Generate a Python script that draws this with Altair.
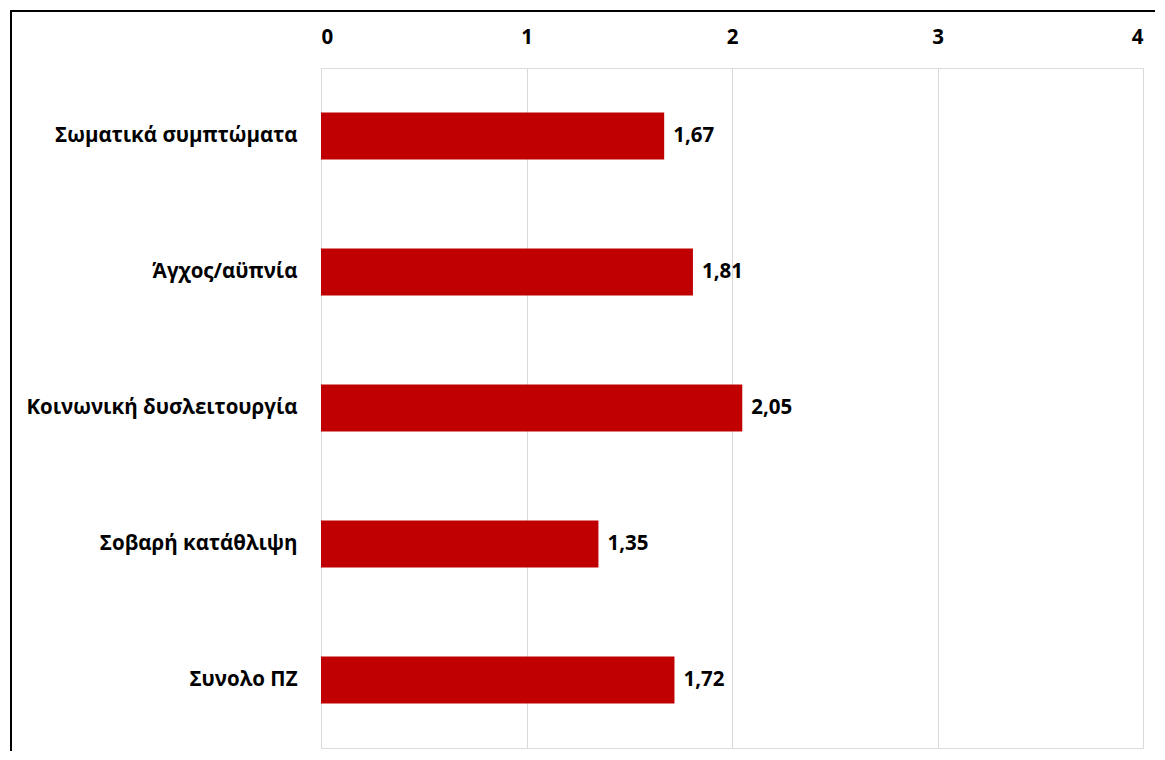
import altair as alt
import pandas as pd

categories = ["Σωματικά συμπτώματα", "Άγχος/αϋπνία", "Κοινωνική δυσλειτουργία", "Σοβαρή κατάθλιψη", "Συνολο ΠΖ"]
values = [1.67, 1.81, 2.05, 1.35, 1.72]
x_ticks = [0, 1, 2, 3, 4]

df = pd.DataFrame({"cat": categories, "v": values})

FONT = "Open Sans"
FS = 20.5
W, H = 822, 680

y_enc = alt.Y("cat:N", sort=categories, title=None,
              scale=alt.Scale(paddingInner=0.655, paddingOuter=0.3275),
              axis=alt.Axis(labelFont=FONT, labelFontSize=FS, labelFontWeight="bold",
                            labelColor="#000000", labelPadding=24, ticks=False,
                            domain=False, labelLimit=400))
x_enc = alt.X("v:Q", title=None, scale=alt.Scale(domain=[0, 4], nice=False),
              axis=alt.Axis(orient="top", values=x_ticks, format="d", labelFont=FONT,
                            labelFontSize=FS, labelFontWeight="bold", labelColor="#000000",
                            ticks=False, domain=False, labelPadding=21,
                            gridColor="#D9D9D9", gridWidth=1))

base = alt.Chart(df)
bars = base.mark_bar(color="#C00000", size=47).encode(x=x_enc, y=y_enc)
labels = base.transform_calculate(
    lbl="replace(format(datum.v, '.2f'), '.', ',')"
).mark_text(align="left", baseline="middle", dx=9, font=FONT, fontSize=FS,
            fontWeight="bold", color="#000000").encode(x="v:Q", y=alt.Y("cat:N", sort=categories), text="lbl:N")

frame_left = alt.Chart(df).mark_rule(color="#000000", strokeWidth=2, clip=False).encode(
    x=alt.value(-310), y=alt.value(-58), y2=alt.value(H + 40))
frame_top = alt.Chart(df).mark_rule(color="#000000", strokeWidth=2, clip=False).encode(
    x=alt.value(-311), x2=alt.value(W + 40), y=alt.value(-57))

chart = alt.layer(bars, labels, frame_left, frame_top).properties(
    width=W, height=H,
    autosize=alt.AutoSizeParams(type="none"),
    padding={"left": 313, "top": 60, "right": 12, "bottom": 3},
).configure_view(stroke=None).configure(background="#FFFFFF")

chart.save("out.html", embed_options={"renderer": "svg", "actions": False})
